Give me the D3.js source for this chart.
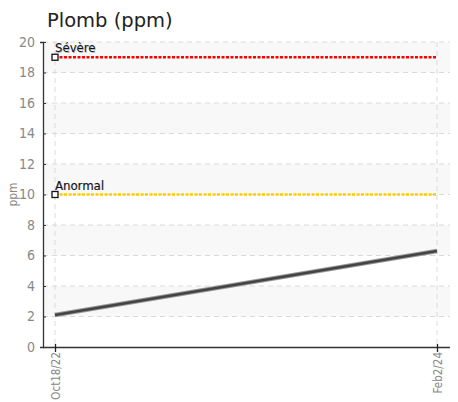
<!DOCTYPE html>
<html>
<head>
<meta charset="utf-8">
<script src="https://cdn.jsdelivr.net/npm/d3@7"></script>
<style>
  body { margin: 0; background: #fff; }
  svg { display: block; }
  .narrow { font-family: 'DejaVu Sans Condensed', 'DejaVu Sans', sans-serif; font-stretch: condensed; }
</style>
</head>
<body>
<div id="chart"></div>
<script>
const dates   = ['Oct18/22', 'Feb2/24'];
const values  = [2.1, 6.3];
const limits  = [
  { label: 'Sévère',  value: 19, color: '#ff0000' },
  { label: 'Anormal', value: 10, color: '#ffcc00' },
];
const yTicks  = [0, 2, 4, 6, 8, 10, 12, 14, 16, 18, 20];

const W = 458, H = 402;
const pL = 43, pR = 450, pT = 42, pB = 347;

const svg = d3.select('#chart').append('svg').attr('width', W).attr('height', H);

const x = d3.scalePoint().domain(dates).range([55, 437]);
const y = d3.scaleLinear().domain([0, 20]).range([pB, pT]);

// alternating bands
d3.range(0, 20, 2).forEach((v, i) => {
  if (i % 2 === 1) svg.append('rect').attr('x', pL).attr('y', y(v + 2))
    .attr('width', pR - pL).attr('height', y(v) - y(v + 2)).attr('fill', '#f8f8f8');
});

// grid
svg.append('g').selectAll('line').data(yTicks.slice(1)).join('line')
  .attr('x1', pL).attr('x2', pR).attr('y1', d => y(d)).attr('y2', d => y(d))
  .attr('stroke', '#dadada').attr('stroke-dasharray', '5,4');
svg.append('g').selectAll('line').data(dates).join('line')
  .attr('x1', d => x(d)).attr('x2', d => x(d)).attr('y1', pT).attr('y2', pB)
  .attr('stroke', '#dadada').attr('stroke-dasharray', '5,4');

// axes
const yAxis = svg.append('g').attr('transform', `translate(${pL},0)`)
  .call(d3.axisLeft(y).tickValues(yTicks).tickSize(3).tickPadding(5));
yAxis.select('.domain').attr('stroke', '#333').attr('stroke-width', 1.3);
yAxis.selectAll('.tick line').attr('stroke', '#333').attr('x2', 3);
yAxis.selectAll('text').attr('class', 'narrow').attr('fill', '#888').attr('font-size', 14);

const xAxis = svg.append('g').attr('transform', `translate(0,${pB})`)
  .call(d3.axisBottom(x).tickSize(5).tickSizeOuter(0));
xAxis.select('.domain').attr('stroke', '#333').attr('stroke-width', 1.3).attr('d', `M${pL},0.5H${pR}`);
xAxis.selectAll('.tick line').attr('stroke', '#222').attr('y1', -3).attr('y2', 5).attr('stroke-width', 1.3);
xAxis.selectAll('text').attr('class', 'narrow').attr('fill', '#888').attr('font-size', 11.5)
  .attr('text-anchor', 'end').attr('transform', 'rotate(-90)').attr('x', -5).attr('y', 0).attr('dy', '0.35em');

// title and y label
svg.append('text').attr('x', 47).attr('y', 27).attr('font-size', 19.5)
  .attr('font-family', "'DejaVu Sans', sans-serif").attr('fill', '#222').text('Plomb (ppm)');
svg.append('text').attr('class', 'narrow').attr('transform', `translate(17,${(pT + pB) / 2}) rotate(-90)`)
  .attr('text-anchor', 'middle').attr('font-size', 12)
  .attr('fill', '#888').text('ppm');

// limit lines
limits.forEach(l => {
  svg.append('line').attr('x1', x(dates[0])).attr('x2', x(dates[1]))
    .attr('y1', y(l.value)).attr('y2', y(l.value))
    .attr('stroke', l.color).attr('stroke-width', 2.5).attr('stroke-dasharray', '3,1.5');
  svg.append('rect').attr('x', x(dates[0]) - 3).attr('y', y(l.value) - 3)
    .attr('width', 6).attr('height', 6).attr('fill', '#fff').attr('stroke', '#111').attr('stroke-width', 1.3);
  svg.append('text').attr('class', 'narrow').attr('x', x(dates[0])).attr('y', y(l.value) - 5)
    .attr('font-size', 13).attr('fill', '#bbb')
    .attr('transform', 'translate(0.7,0.7)').text(l.label);
  svg.append('text').attr('class', 'narrow').attr('x', x(dates[0])).attr('y', y(l.value) - 5)
    .attr('font-size', 13).attr('fill', '#111').text(l.label);
});

// series
const pts = dates.map((d, i) => [x(d), y(values[i])]);
svg.append('path').attr('d', d3.line()(pts)).attr('fill', 'none')
  .attr('stroke', '#999').attr('stroke-width', 4.5);
svg.append('path').attr('d', d3.line()(pts)).attr('fill', 'none')
  .attr('stroke', '#444').attr('stroke-width', 2.5);
</script>
</body>
</html>
